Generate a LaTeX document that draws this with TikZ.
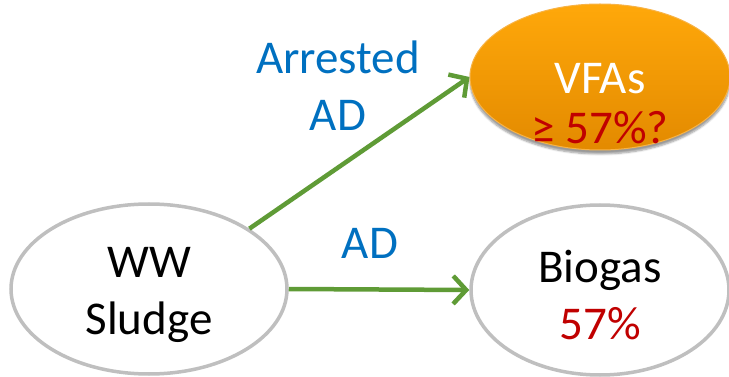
\documentclass[tikz,border=0pt]{standalone}
\usepackage{fontspec}
\setmainfont{Carlito}
\usetikzlibrary{arrows.meta,shapes.geometric,shadows.blur}
\definecolor{lblue}{HTML}{0070C0}
\definecolor{dred}{HTML}{C00000}
\definecolor{agreen}{HTML}{5F9B36}
\definecolor{egray}{HTML}{BFBFBF}
\definecolor{otop}{HTML}{FFA80A}
\definecolor{obot}{HTML}{E38A00}
\definecolor{oline}{HTML}{F7B347}
\tikzset{
  bigtext/.style={font=\fontsize{47}{57}\selectfont, align=center},
  grayell/.style={ellipse, draw=egray, line width=3.5pt, fill=white, minimum width=276pt, minimum height=170pt, inner sep=0pt},
  orangeell/.style={ellipse, draw=oline, line width=1pt, top color=otop, bottom color=obot, minimum width=260pt, minimum height=146pt, inner sep=0pt, blur shadow={shadow xshift=0pt, shadow yshift=-4pt, shadow blur steps=6, shadow opacity=40}},
  flow/.style={draw=agreen, line width=4.5pt, -{Straight Barb[length=13pt, width=28pt, line width=4.5pt]}},
  lbl/.style={bigtext, text=lblue}
}
\begin{document}
\begin{tikzpicture}[x=1pt,y=-1pt]
\useasboundingbox (0,0) rectangle (729,377);
\node[grayell] (s) at (149,289) {};
\node[bigtext] (st) at (149,295) {WW\\Sludge};
\node[grayell, minimum width=258pt] (b) at (600,290) {};
\node[bigtext] (bt) at (600,295) {Biogas\\\textcolor{dred}{57\%}};
\node[orangeell] (v) at (600,77) {};
\node[bigtext] (vt) at (600,104) {\textcolor{white}{VFAs}\\[-7pt]\textcolor{dred}{≥ 57\%?}};
\draw[flow] (s.31) -- (v.west);
\draw[flow] (s.east) -- (b.west);
\node[lbl] (l1) at (338,86) {Arrested\\AD};
\node[lbl] (l2) at (370,243) {AD};
\end{tikzpicture}
\end{document}
